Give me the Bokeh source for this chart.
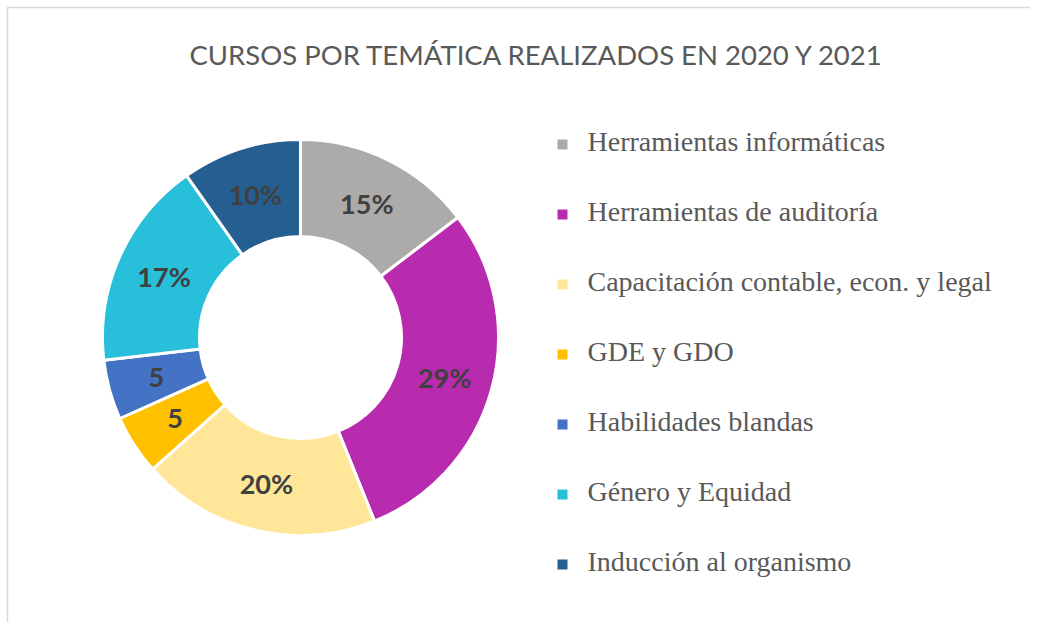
import numpy as np
from bokeh.plotting import figure
from bokeh.models import ColumnDataSource, Range1d
from bokeh.core.properties import value
from bokeh.embed import file_html
from bokeh.resources import INLINE

title = "CURSOS POR TEMÁTICA REALIZADOS EN 2020 Y 2021"
categories = [
    "Herramientas informáticas",
    "Herramientas de auditoría",
    "Capacitación contable, econ. y legal",
    "GDE y GDO",
    "Habilidades blandas",
    "Género y Equidad",
    "Inducción al organismo",
]
counts = [6, 12, 8, 2, 2, 7, 4]
labels = ["15%", "29%", "20%", "5", "5", "17%", "10%"]
colors = ["#ADAAAA", "#B92BAE", "#FFE699", "#FFC000", "#4472C4", "#27BFD9", "#255E91"]

W, H = 1030, 622
p = figure(width=W, height=H, x_range=Range1d(0, W), y_range=Range1d(0, H),
           output_backend="svg", toolbar_location=None, min_border=0)
p.axis.visible = False
p.grid.visible = False
p.outline_line_color = None
p.background_fill_color = "white"

# chart-area border (top/left visible, as in the reference)
p.quad(left=[7], right=[W + 20], top=[H - 7], bottom=[-20], fill_color=None,
       line_color="#D9D9D9", line_width=1.5)

# donut
cx, cy = 300, 285
r_in, r_out = 101, 198
vals = np.array(counts, dtype=float)
frac = vals / vals.sum()
cum_end = np.cumsum(frac)
cum_start = cum_end - frac
start = np.pi / 2 - 2 * np.pi * cum_start
end = np.pi / 2 - 2 * np.pi * cum_end
mid = (start + end) / 2
r_mid = (r_in + r_out) / 2

src = ColumnDataSource(dict(start=start, end=end, color=colors,
                            lx=cx + r_mid * np.cos(mid), ly=cy + r_mid * np.sin(mid),
                            label=labels))
p.annular_wedge(x=cx, y=cy, inner_radius=r_in, outer_radius=r_out,
                start_angle="start", end_angle="end", direction="clock",
                fill_color="color", line_color="white", line_width=3, source=src)
p.text(x="lx", y="ly", text="label", source=src, text_align="center",
       text_baseline="middle", text_font=value("Lato"), text_font_style="bold",
       text_font_size="27px", text_color="#404040")

# title
p.text(x=[537], y=[568], text=[title], text_align="center", text_baseline="alphabetic",
       text_font=value("Lato"), text_font_size="27.5px", text_color="#595959")

# legend
n = len(categories)
ly_base = np.array([632 - (151 + 70 * i) for i in range(n)], dtype=float)
leg = ColumnDataSource(dict(tx=[587] * n, ty=ly_base, mx=[562] * n, my=ly_base - 3,
                            name=categories, color=colors))
p.scatter(x="mx", y="my", marker="square", size=10, fill_color="color",
          line_color=None, source=leg)
p.text(x="tx", y="ty", text="name", source=leg, text_align="left",
       text_baseline="alphabetic", text_font=value("Liberation Serif"),
       text_font_size="28px", text_color="#595959")

open("out.html", "w").write(file_html(p, INLINE))
